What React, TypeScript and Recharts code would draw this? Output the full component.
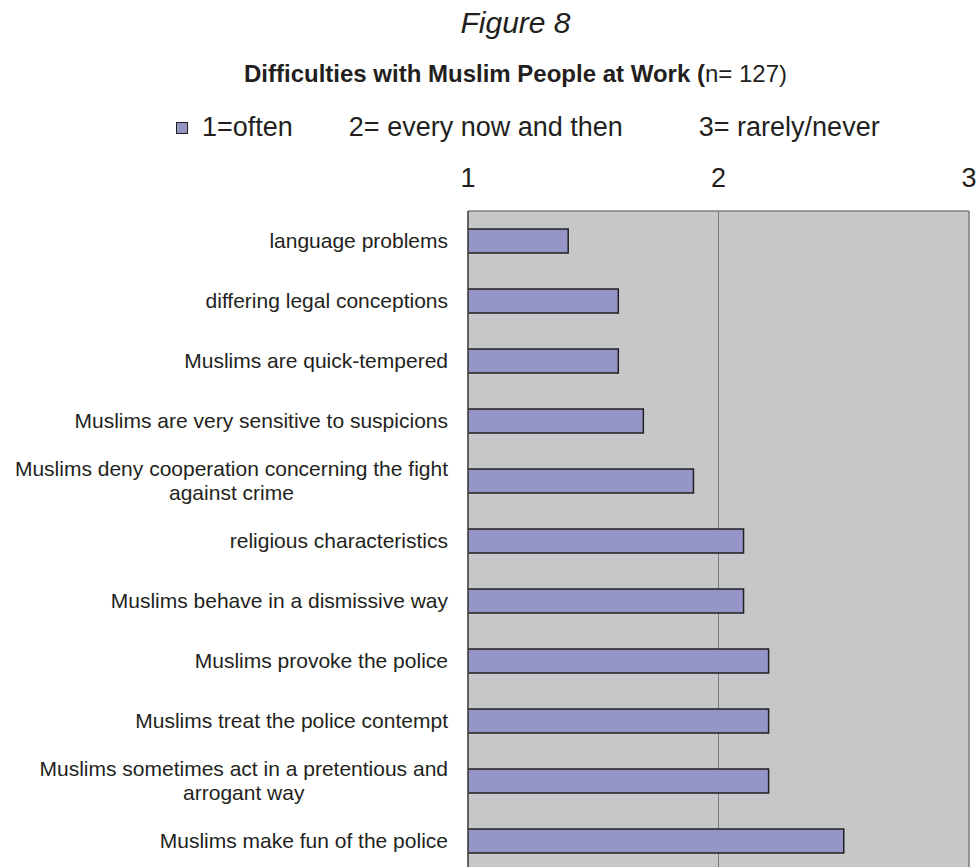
import { BarChart, Bar, XAxis, YAxis, CartesianGrid, Legend, ReferenceLine } from 'recharts'

// Mean answer per difficulty (1 = often ... 3 = rarely/never), top to bottom
const categories = [
  'language problems',
  'differing legal conceptions',
  'Muslims are quick-tempered',
  'Muslims are very sensitive to suspicions',
  'Muslims deny cooperation concerning the fight\nagainst crime',
  'religious characteristics',
  'Muslims behave in a dismissive way',
  'Muslims provoke the police',
  'Muslims treat the police contempt',
  'Muslims sometimes act in a pretentious and\narrogant way',
  'Muslims make fun of the police',
]
const meanScores = [1.4, 1.6, 1.6, 1.7, 1.9, 2.1, 2.1, 2.2, 2.2, 2.2, 2.5]
const scaleTicks = [1, 2, 3]
const legendItems = ['1=often', '2= every now and then', '3= rarely/never']
const legendGaps = [0, 56, 76]

const data = categories.map((name, i) => ({ name, score: meanScores[i] }))

const FONT = '"Liberation Sans", Arial, sans-serif'
const TEXT = '#231f20'
const BAR_FILL = '#9595c8'
const PLOT_BG = '#c6c7c9'
const LABEL_SIZE = 21

let measureCtx: CanvasRenderingContext2D | null = null
function textWidth(s: string, size: number) {
  if (!measureCtx) measureCtx = document.createElement('canvas').getContext('2d')
  if (!measureCtx) return s.length * size * 0.5
  measureCtx.font = `${size}px "Liberation Sans"`
  return measureCtx.measureText(s).width
}

// wrapped labels are centred as a block, the block itself right-aligned
function CategoryTick({ x, y, payload }: any) {
  const lines = String(payload.value).split('\n')
  const common = { fontFamily: FONT, fontSize: LABEL_SIZE, fill: TEXT }
  if (lines.length === 1) {
    return <text x={x} y={y + 7} textAnchor="end" {...common}>{lines[0]}</text>
  }
  const w = Math.max(...lines.map((l) => textWidth(l, LABEL_SIZE)))
  const cx = x - w / 2
  return (
    <text textAnchor="middle" {...common}>
      {lines.map((l, i) => (
        <tspan key={i} x={cx} y={y + 7 + (i - (lines.length - 1) / 2) * 24}>{l}</tspan>
      ))}
    </text>
  )
}

function ScaleLegend() {
  return (
    <div style={{ display: 'flex', alignItems: 'center', fontFamily: FONT, fontSize: 27, lineHeight: '27px', color: TEXT, whiteSpace: 'pre' }}>
      <span style={{ width: 10, height: 10, background: BAR_FILL, border: `1.5px solid ${TEXT}`, marginRight: 14 }} />
      {legendItems.map((t, i) => (
        <span key={t} style={{ marginLeft: legendGaps[i] }}>{t}</span>
      ))}
    </div>
  )
}

export default function App() {
  return (
    <div style={{ position: 'absolute', left: 0, top: 0, width: 977, height: 867, overflow: 'hidden', background: '#fff' }}>
      <div style={{ position: 'absolute', top: 8, left: 0, width: 977, paddingLeft: 54, boxSizing: 'border-box', textAlign: 'center', fontFamily: FONT, fontStyle: 'italic', fontSize: 30, lineHeight: '30px', color: TEXT }}>
        Figure 8
      </div>
      <div style={{ position: 'absolute', top: 62, left: 0, width: 977, paddingLeft: 54, boxSizing: 'border-box', textAlign: 'center', fontFamily: FONT, fontSize: 24, lineHeight: '24px', color: TEXT }}>
        <b>Difficulties with Muslim People at Work (</b>n= 127)
      </div>

      <BarChart
        width={977}
        height={880}
        data={data}
        layout="vertical"
        margin={{ top: 181, right: 8, bottom: 9, left: 8 }}
      >
        <CartesianGrid horizontal={false} fill={PLOT_BG} stroke="#7a7a7a" />
        <XAxis
          type="number"
          orientation="top"
          domain={[1, 3]}
          ticks={scaleTicks}
          allowDataOverflow
          height={30}
          tickLine={false}
          tickMargin={18}
          axisLine={{ stroke: '#808080', strokeWidth: 1.5 }}
          tick={{ fontFamily: FONT, fontSize: 27, fill: TEXT }}
        />
        <YAxis
          type="category"
          dataKey="name"
          width={460}
          interval={0}
          tickLine={false}
          tickMargin={14}
          axisLine={{ stroke: '#4a4a4a', strokeWidth: 1.5 }}
          tick={<CategoryTick />}
        />
        <ReferenceLine x={3} stroke="#8a8a8a" strokeWidth={1.5} />
        <Legend
          layout="horizontal"
          verticalAlign="middle"
          align="center"
          wrapperStyle={{ top: 114, left: 176, width: 780 }}
          content={<ScaleLegend />}
        />
        <Bar
          dataKey="score"
          fill={BAR_FILL}
          stroke={TEXT}
          strokeWidth={1.5}
          barSize={24}
          isAnimationActive={false}
        />
      </BarChart>
    </div>
  )
}
